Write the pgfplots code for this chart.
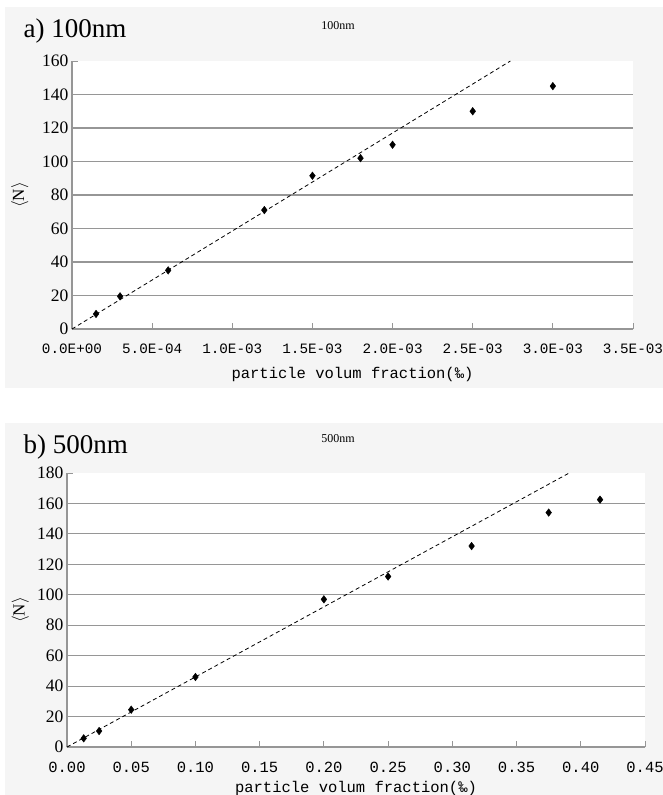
\documentclass[border=0pt]{standalone}
\usepackage{fontspec}
\setmainfont{Liberation Serif}
\newfontfamily\monofont{Liberation Mono}
\usepackage{pgfplots}
\pgfplotsset{compat=1.18}
\definecolor{panelbg}{RGB}{245,245,245}
\definecolor{gridgray}{RGB}{150,150,150}

\pgfplotsset{
  panel/.style={
    scale only axis,
    axis background/.style={fill=white},
    axis x line*=bottom, axis y line*=left,
    axis line style={gridgray, line width=1.2pt},
    every tick/.style={gridgray, line width=1pt},
    tick align=inside, major tick length=6pt,
    xmin=0, ymin=0,
    scaled x ticks=false,
    /pgf/number format/assume math mode=true,
    extra y tick labels={},
    extra y tick style={grid=major, major tick length=0pt},
    grid style={gridgray, line width=1.2pt},
    xticklabel style={font=\monofont\fontsize{15.5}{15.5}\selectfont, anchor=base},
    yticklabel style={font=\fontsize{17.5}{17.5}\selectfont},
    xlabel style={font=\monofont\fontsize{15.5}{16}\selectfont, at={(axis description cs:0.5,0)}, anchor=base},
    ylabel style={font=\fontsize{17}{17}\selectfont, anchor=center},
    clip=false,
  },
  pts/.style={only marks, mark=diamond*, mark size=3.8pt, black},
  fit/.style={black, line width=0.8pt, dash pattern=on 4pt off 3pt, no marks},
}

\begin{document}
\begin{tikzpicture}
\path[use as bounding box] (0,0) rectangle (663pt,-795pt);
\fill[panelbg] (5pt,-7pt) rectangle (663pt,-388pt);
\fill[panelbg] (5pt,-423pt) rectangle (663pt,-795pt);

\node[anchor=base west, font=\fontsize{27}{27}\selectfont] at (20pt,-37pt) {a) 100nm};
\node[anchor=base, font=\fontsize{12}{12}\selectfont] at (338pt,-29pt) {100nm};
\node[anchor=base west, font=\fontsize{27}{27}\selectfont] at (20pt,-453pt) {b) 500nm};
\node[anchor=base, font=\fontsize{12}{12}\selectfont] at (338pt,-442pt) {500nm};

% a) 100 nm
\begin{axis}[panel,
  at={(72pt,-329pt)}, anchor=south west,
  width=561pt, height=268pt,
  xmax=0.0035, ymax=160,
  xtick={0,0.0005,0.001,0.0015,0.002,0.0025,0.003,0.0035},
  xticklabels={0.0E+00,5.0E-04,1.0E-03,1.5E-03,2.0E-03,2.5E-03,3.0E-03,3.5E-03},
  ytick={0,20,...,160},
  extra y ticks={20,40,...,140},
  xticklabel style={font=\monofont\fontsize{14.3}{14.3}\selectfont, yshift=-24pt},
  xlabel style={yshift=-49pt},
  ylabel style={at={(axis description cs:-0.093,0.5)}},
  xlabel={particle volum fraction(‰)},
  ylabel={$\langle\mathrm{N}\rangle$},
]
\addplot[fit] coordinates {(0,0) (0.002735,160)};
\addplot[pts] coordinates {
  (0.00015,9) (0.0003,19.5) (0.0006,35) (0.0012,71) (0.0015,91.5)
  (0.0018,102) (0.002,110) (0.0025,130) (0.003,145)};
\end{axis}

% b) 500 nm
\begin{axis}[panel,
  at={(67pt,-747pt)}, anchor=south west,
  width=578pt, height=274pt,
  xmax=0.45, ymax=180,
  xtick={0,0.05,0.1,0.15,0.2,0.25,0.3,0.35,0.4,0.45},
  xticklabels={0.00,0.05,0.10,0.15,0.20,0.25,0.30,0.35,0.40,0.45},
  ytick={0,20,...,180},
  extra y ticks={20,40,...,160},
  xticklabel style={yshift=-25pt},
  xlabel style={yshift=-45pt},
  ylabel style={at={(axis description cs:-0.081,0.5)}},
  xlabel={particle volum fraction(‰)},
  ylabel={$\langle\mathrm{N}\rangle$},
]
\addplot[fit] coordinates {(0,0) (0.391,180)};
\addplot[pts] coordinates {
  (0.013,5.7) (0.025,10.5) (0.05,24.5) (0.10,46) (0.20,97)
  (0.25,112) (0.315,132) (0.375,154) (0.415,162.5)};
\end{axis}
\end{tikzpicture}
\end{document}
